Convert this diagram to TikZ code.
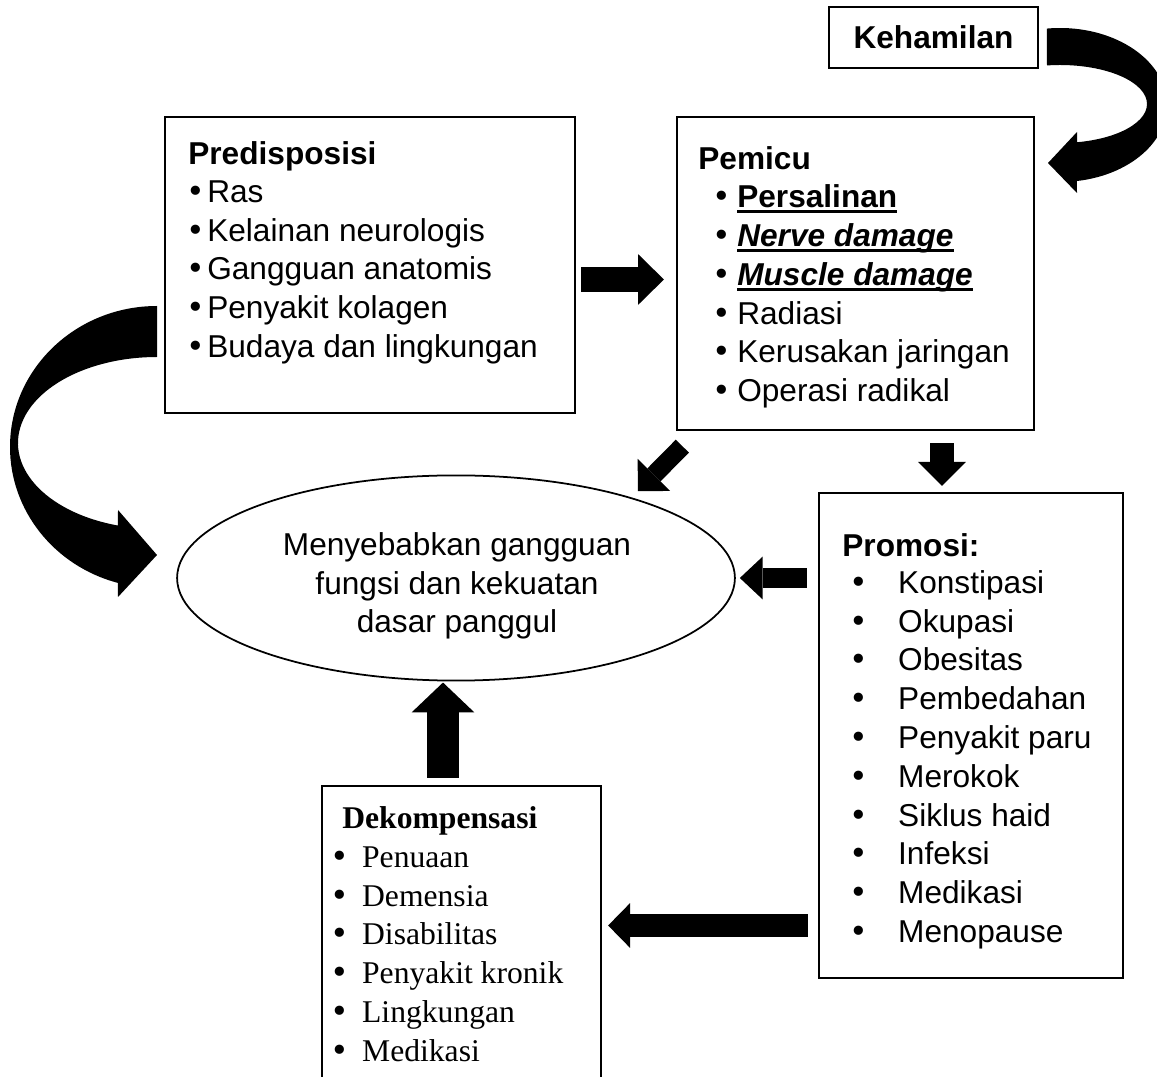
\documentclass[tikz,border=0pt]{standalone}
\usepackage{fontspec}
\setmainfont{Liberation Sans}
\newfontfamily\serifdek{Liberation Serif}
\newfontfamily\bulfont{DejaVu Sans}
\usetikzlibrary{arrows.meta, shapes.geometric, fit, calc}

\newcommand{\thickul}[1]{\setbox0\hbox{#1}\rlap{\rule[-3pt]{\wd0}{1.5pt}}\box0}
\newcommand{\bigbul}{{\bulfont\textbullet}}

\tikzset{
  box/.style={draw, line width=1.3pt, inner sep=0pt},
  item/.style={anchor=base west, inner sep=0pt},
  fatarrow/.style n args={3}{line width=#1, -{Triangle[width=#2, length=#3, line width=0pt]}},
}

\begin{document}
\begin{tikzpicture}[x=0.02cm, y=-0.02cm, font=\fontsize{18}{22}\selectfont]
\useasboundingbox (0,0) rectangle (1157,1077);
\clip (0,0) rectangle (1157,1077);

% kotak
\node[box, fit={(829,7) (1038,68)}] (keham) {};
\node[font=\fontsize{18}{22}\selectfont\bfseries] (kehamT) at (keham.center) {Kehamilan};
\node[box, fit={(165,117) (575,413)}] (predisp) {};
\node[box, fit={(677,117) (1034,430)}] (pemicu) {};
\node[box, fit={(819,493) (1123,978)}] (promosi) {};
\node[box, fit={(322,786) (601,1100)}] (dekomp) {};
\node[draw, ellipse, line width=1pt, minimum width=317.5pt, minimum height=116.8pt, inner sep=0pt] (gangguan) at (456,578) {};
\node[align=center, inner sep=0pt] (gangguanT) at (457,586) {Menyebabkan gangguan\\fungsi dan kekuatan\\dasar panggul};

% isi kotak
\node[item] (predispT) at (188,165) {\textbf{Predisposisi}};
\foreach \txt [count=\i] in {Ras, Kelainan neurologis, Gangguan anatomis, Penyakit kolagen, Budaya dan lingkungan}
  \node[item] (pre\i) at (186,163.5+38.8*\i) {\makebox[11.9pt][l]{\bigbul}\txt};

\node[item] (pemicuT) at (698,170) {\textbf{Pemicu}};
\foreach \txt [count=\i] in {{\textbf{\thickul{Persalinan}}}, {\textbf{\textit{\thickul{Nerve damage}}}}, {\textbf{\textit{\thickul{Muscle damage}}}}, Radiasi, Kerusakan jaringan, Operasi radikal}
  \node[item] (pem\i) at (712,169+38.8*\i) {\makebox[14.2pt][l]{\bigbul}\txt};

\node[item] (promosiT) at (842,557) {\textbf{Promosi:}};
\foreach \txt [count=\i] in {Konstipasi, Okupasi, Obesitas, Pembedahan, Penyakit paru, Merokok, Siklus haid, Infeksi, Medikasi, Menopause}
  \node[item] (pro\i) at (849,554.5+38.8*\i) {\makebox[27.8pt][l]{\bigbul}\txt};

\node[item, font=\fontsize{18}{22}\selectfont\serifdek] (dekompT) at (342,828) {\textbf{Dekompensasi}};
\foreach \txt [count=\i] in {Penuaan, Demensia, Disabilitas, Penyakit kronik, Lingkungan, Medikasi}
  \node[item, font=\fontsize{18}{22}\selectfont\serifdek] (dek\i) at (330,828.8+38.7*\i) {\makebox[18.1pt][l]{\bigbul}\txt};

% panah lurus
\draw[fatarrow={14.2pt}{28.9pt}{14.7pt}, shorten <=2.8pt, shorten >=6.8pt] (predisp.east |- 0,279.5) -- (pemicu.west |- 0,279.5);
\draw[fatarrow={10.5pt}{26pt}{13pt}] ($(pemicu.south west)+(6.5,15)$) -- ($(pemicu.south west)+(-38,60)$);
\draw[fatarrow={13.6pt}{27.2pt}{13.6pt}, shorten <=6.8pt, shorten >=3.4pt] (942,0 |- pemicu.south) -- (942,0 |- promosi.north);
\draw[fatarrow={11.3pt}{24.4pt}{13pt}, shorten <=6.2pt, shorten >=2.3pt] (promosi.west |- gangguan.east) -- (gangguan.east);
\draw[fatarrow={13pt}{25.5pt}{12.5pt}, shorten <=5.7pt, shorten >=3.4pt] (promosi.west |- 0,925.5) -- (dekomp.east |- 0,925.5);
\draw[fatarrow={18.1pt}{35.7pt}{17pt}, shorten <=4pt, shorten >=0.6pt] (443,0 |- dekomp.north) -- (443,0 |- gangguan.south);

% panah lengkung
\fill ([shift={(1060,105)}]263:107 and 77) arc[start angle=263, end angle=440.9, x radius=107, y radius=77]
  -- (1077,193) -- (1048,163) -- (1077,132)
  -- ([shift={(1060,104)}]438.7:87 and 39) arc[start angle=438.7, end angle=261.4, x radius=87, y radius=39] -- cycle;
\fill ([shift={(157,447)}]270:147 and 141) arc[start angle=270, end angle=105.4, x radius=147, y radius=141]
  -- (118,597) -- (157,555) -- (118,510)
  -- ([shift={(157,443)}]106.3:139 and 86) arc[start angle=106.3, end angle=270, x radius=139, y radius=86] -- cycle;
\end{tikzpicture}
\end{document}
